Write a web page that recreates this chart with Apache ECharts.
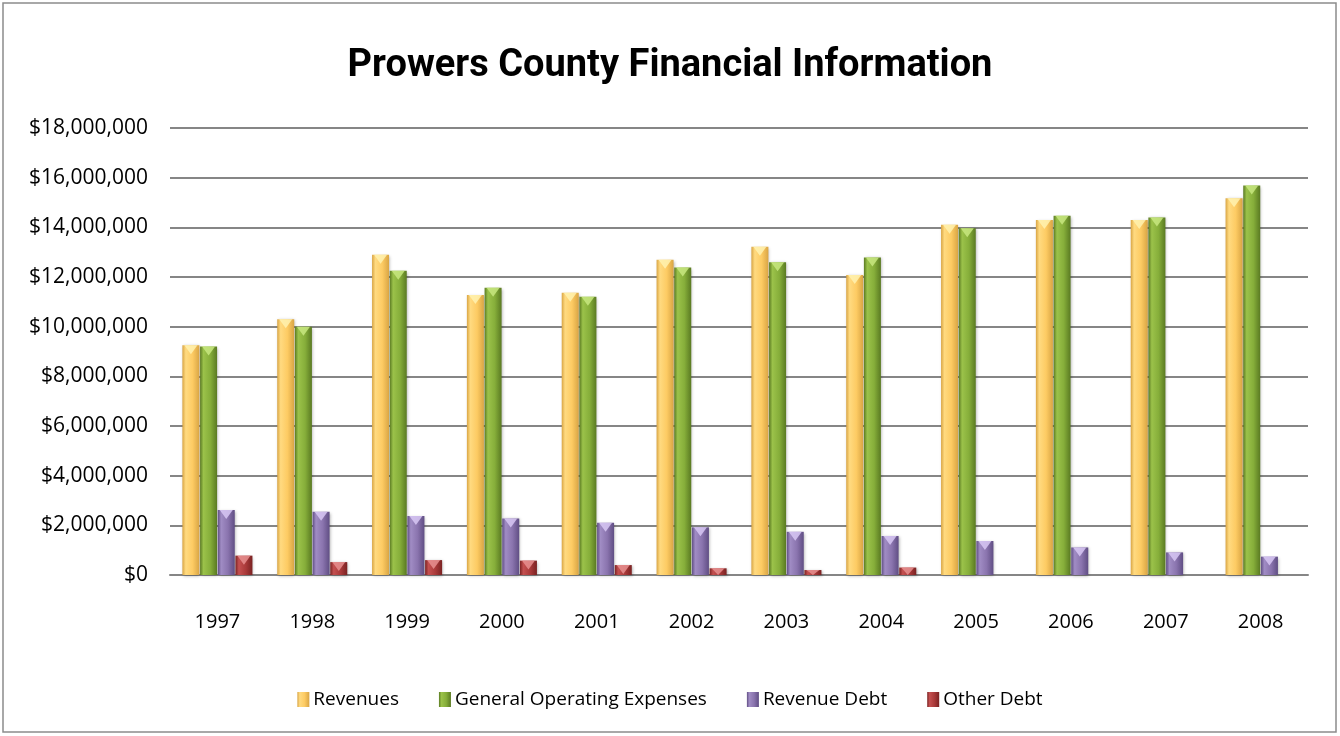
<!DOCTYPE html>
<html>
<head>
<meta charset="utf-8">
<script src="https://cdn.jsdelivr.net/npm/echarts@6/dist/echarts.min.js"></script>
<style>
  html, body { margin: 0; padding: 0; background: #fff; }
  #main { width: 1340px; height: 736px; }
</style>
</head>
<body>
<div id="main"></div>
<script>
// years on the x axis
const years = ['1997', '1998', '1999', '2000', '2001', '2002', '2003', '2004', '2005', '2006', '2007', '2008'];
// values, dollars
const revenues = [9250000, 10300000, 12900000, 11280000, 11370000, 12690000, 13220000, 12080000, 14100000, 14300000, 14300000, 15170000];
const operatingExpenses = [9200000, 10000000, 12250000, 11570000, 11200000, 12380000, 12590000, 12790000, 13960000, 14470000, 14400000, 15680000];
const revenueDebt = [2620000, 2550000, 2380000, 2280000, 2100000, 1920000, 1740000, 1570000, 1370000, 1110000, 910000, 740000];
const otherDebt = [780000, 520000, 600000, 580000, 400000, 270000, 200000, 300000, 0, 0, 0, 0];

const FONT = "'Open Sans', sans-serif";

function grad(light, mid, dark) {
  return new echarts.graphic.LinearGradient(0, 0, 1, 0, [
    { offset: 0, color: dark },
    { offset: 0.2, color: light },
    { offset: 0.6, color: mid },
    { offset: 1, color: dark }
  ]);
}

const seriesDefs = [
  { name: 'Revenues', data: revenues, fill: grad('#FFDA80', '#FDCB63', '#D9A544'), cap: '#FFF2B0' },
  { name: 'General Operating Expenses', data: operatingExpenses, fill: grad('#9BC24A', '#86AE3A', '#5A7A22'), cap: '#C8E880' },
  { name: 'Revenue Debt', data: revenueDebt, fill: grad('#A08CC4', '#8A74AE', '#604E84'), cap: '#D8C8F4' },
  { name: 'Other Debt', data: otherDebt, fill: grad('#C45050', '#AA3A3A', '#7A2222'), cap: '#E89090' }
];

const series = [];
seriesDefs.forEach(function (s) {
  series.push({
    name: s.name,
    type: 'bar',
    barWidth: 17,
    barGap: '4%',
    data: s.data,
    itemStyle: { color: s.fill, shadowColor: 'rgba(0,0,0,0.3)', shadowBlur: 3, shadowOffsetX: 1, shadowOffsetY: 1 }
  });
});
// little bevel triangles on the bar tops
seriesDefs.forEach(function (s) {
  series.push({
    name: s.name,
    type: 'pictorialBar',
    barWidth: 17,
    barGap: '4%',
    symbol: 'triangle',
    symbolRotate: 180,
    symbolPosition: 'end',
    z: 5,
    silent: true,
    data: s.data.map(function (v) {
      if (!(v > 0)) return '-';
      const h = Math.min(9, v / 1000000 * 24.8);
      return { value: v, symbolSize: [13, h] };
    }),
    itemStyle: { color: s.cap, opacity: 0.85 }
  });
});

const chart = echarts.init(document.getElementById('main'));
chart.setOption({
  animation: false,
  backgroundColor: '#fff',
  graphic: [{
    type: 'rect',
    shape: { x: 3, y: 3, width: 1333, height: 729 },
    style: { fill: 'none', stroke: '#8c8c8c', lineWidth: 1.5 },
    silent: true
  }],
  title: {
    text: 'Prowers County Financial Information',
    left: 'center',
    top: 42,
    textStyle: { fontFamily: "Roboto, sans-serif", fontSize: 38, fontWeight: 'bold', color: '#000' }
  },
  legend: {
    data: seriesDefs.map(function (s) { return s.name; }),
    bottom: 22,
    left: 'center',
    itemWidth: 12,
    itemHeight: 15,
    itemGap: 40,
    icon: 'rect',
    textStyle: { fontFamily: FONT, fontSize: 19, color: '#000', padding: [0, 0, 0, -1] }
  },
  grid: { left: 170, right: 32, top: 128, bottom: 161, containLabel: false },
  xAxis: {
    type: 'category',
    data: years,
    axisTick: { show: false },
    axisLine: { lineStyle: { color: '#868686', width: 2 } },
    axisLabel: { fontFamily: FONT, fontSize: 20, color: '#000', margin: 37 }
  },
  yAxis: {
    type: 'value',
    min: 0,
    max: 18000000,
    interval: 2000000,
    axisLine: { show: false },
    axisTick: { show: false },
    splitLine: { lineStyle: { color: '#868686', width: 2 } },
    axisLabel: {
      fontFamily: FONT, fontSize: 21, color: '#000', margin: 22,
      formatter: function (v) { return '$' + v.toLocaleString('en-US'); }
    }
  },
  series: series
});
</script>
</body>
</html>
